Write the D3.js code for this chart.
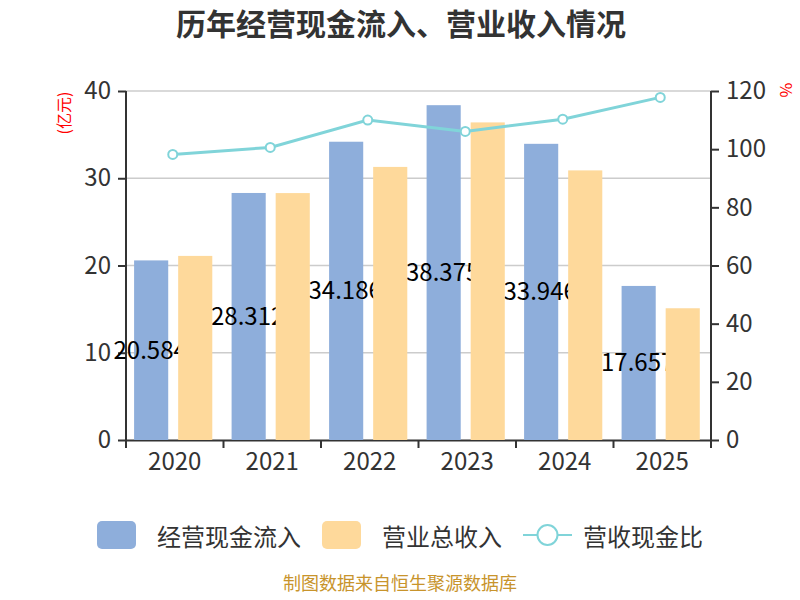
<!doctype html>
<html lang='zh'>
<head>
    <meta charset='UTF-8'>
    <title>历年经营现金流入、营业收入情况</title>
    <style>
        html, body {
            margin: 0;
            background: #fff;
        }
        svg text {
            font-family: "Noto Sans CJK SC", "Noto Sans", sans-serif;
        }
    </style>
</head>
<body>
    <script src='https://d3js.org/d3.v7.min.js'></script>
    <div class='chart'></div>
    <script>
        // data
        const years = ['2020', '2021', '2022', '2023', '2024', '2025'];
        const cashIn = [20.584, 28.312, 34.186, 38.375, 33.946, 17.657];
        const revenue = [21.1, 28.3, 31.3, 36.4, 30.9, 15.1];
        const ratio = [98.2, 100.6, 110.0, 106.1, 110.3, 117.8];
        const leftTicks = [0, 10, 20, 30, 40];
        const rightTicks = [0, 20, 40, 60, 80, 100, 120];

        const config = {
            width: 800,
            height: 600,
            left: 126,
            right: 711,
            top: 91,
            bottom: 440,
            blue: '#8eaedb',
            orange: '#fed99b',
            lineColor: '#80d4d9',
            axisColor: '#333',
            gridColor: '#ccc'
        };

        const svg = d3.select('.chart')
            .append('svg')
            .attr('width', config.width)
            .attr('height', config.height);

        const x = d3.scaleBand()
            .domain(years)
            .range([config.left, config.right]);

        const yLeft = d3.scaleLinear()
            .domain([0, 40])
            .range([config.bottom, config.top]);

        const yRight = d3.scaleLinear()
            .domain([0, 120])
            .range([config.bottom, config.top]);

        const barW = x.bandwidth() * 0.35;
        const blueOff = x.bandwidth() * 0.083;
        const orangeOff = x.bandwidth() * 0.535;

        // title
        svg.append('text')
            .attr('x', 401)
            .attr('y', 22)
            .attr('text-anchor', 'middle')
            .attr('dominant-baseline', 'central')
            .style('font-size', '30px')
            .style('font-weight', 'bold')
            .style('fill', '#333')
            .text('历年经营现金流入、营业收入情况');

        // grid
        svg.append('g')
            .selectAll('line')
            .data(leftTicks.filter((d) => d > 0))
            .join('line')
            .attr('x1', config.left)
            .attr('x2', config.right)
            .attr('y1', (d) => yLeft(d))
            .attr('y2', (d) => yLeft(d))
            .style('stroke', config.gridColor)
            .style('stroke-width', 1.5);

        // axes
        const leftAxis = svg.append('g')
            .attr('transform', 'translate(' + config.left + ',0)')
            .call(d3.axisLeft(yLeft).tickValues(leftTicks).tickSize(8).tickPadding(7));

        const rightAxis = svg.append('g')
            .attr('transform', 'translate(' + config.right + ',0)')
            .call(d3.axisRight(yRight).tickValues(rightTicks).tickSize(8).tickPadding(7));

        const bottomAxis = svg.append('g')
            .attr('transform', 'translate(0,' + config.bottom + ')')
            .call(d3.axisBottom(x).tickSize(0).tickPadding(13));

        // category boundary ticks
        const bounds = years.map((d) => x(d)).concat([config.right]);
        bottomAxis.selectAll('.bound')
            .data(bounds)
            .join('line')
            .classed('bound', true)
            .attr('x1', (d) => d)
            .attr('x2', (d) => d)
            .attr('y1', 0)
            .attr('y2', 8);

        [leftAxis, rightAxis, bottomAxis].forEach((g) => {
            g.select('.domain').style('stroke', config.axisColor).style('stroke-width', 2);
            g.selectAll('line').style('stroke', config.axisColor).style('stroke-width', 2);
            g.selectAll('text')
                .style('font-size', '24px')
                .style('fill', '#333');
        });
        leftAxis.select('.domain').attr('d', 'M0,' + config.top + 'V' + config.bottom);
        rightAxis.select('.domain').attr('d', 'M0,' + config.top + 'V' + config.bottom);

        // axis names
        svg.append('text')
            .attr('transform', 'translate(63,113) rotate(-90)')
            .attr('text-anchor', 'middle')
            .attr('dominant-baseline', 'central')
            .style('font-size', '16px')
            .style('fill', '#f00')
            .text('(亿元)');

        svg.append('text')
            .attr('transform', 'translate(787,90) rotate(90)')
            .attr('text-anchor', 'middle')
            .attr('dominant-baseline', 'central')
            .style('font-size', '16px')
            .style('fill', '#f00')
            .text('%');

        // blue bars
        svg.append('g')
            .selectAll('rect')
            .data(cashIn)
            .join('rect')
            .attr('x', (d, i) => x(years[i]) + blueOff)
            .attr('y', (d) => yLeft(d))
            .attr('width', barW)
            .attr('height', (d) => config.bottom - yLeft(d))
            .style('fill', config.blue);

        // value labels sit in the middle of the blue bars
        svg.append('g')
            .selectAll('text')
            .data(cashIn)
            .join('text')
            .attr('x', (d, i) => x(years[i]) + blueOff + barW / 2 - 1)
            .attr('y', (d) => (yLeft(d) + config.bottom) / 2 - 2)
            .attr('text-anchor', 'middle')
            .attr('dominant-baseline', 'central')
            .style('font-size', '24px')
            .style('fill', '#000')
            .text((d) => d.toFixed(3));

        // orange bars (drawn over the labels)
        svg.append('g')
            .selectAll('rect')
            .data(revenue)
            .join('rect')
            .attr('x', (d, i) => x(years[i]) + orangeOff)
            .attr('y', (d) => yLeft(d))
            .attr('width', barW)
            .attr('height', (d) => config.bottom - yLeft(d))
            .style('fill', config.orange);

        // ratio line
        const cx = (d, i) => x(years[i]) + x.bandwidth() / 2 - 2;
        const line = d3.line()
            .x(cx)
            .y((d) => yRight(d));

        svg.append('path')
            .datum(ratio)
            .attr('d', line)
            .style('fill', 'none')
            .style('stroke', config.lineColor)
            .style('stroke-width', 3);

        svg.append('g')
            .selectAll('circle')
            .data(ratio)
            .join('circle')
            .attr('cx', cx)
            .attr('cy', (d) => yRight(d))
            .attr('r', 4.5)
            .style('fill', '#fff')
            .style('stroke', config.lineColor)
            .style('stroke-width', 2);

        // legend
        const legend = svg.append('g').attr('transform', 'translate(0,535)');
        const legendItems = [
            {name: '经营现金流入', type: 'bar', color: config.blue, x: 97, tx: 157},
            {name: '营业总收入', type: 'bar', color: config.orange, x: 322, tx: 382},
            {name: '营收现金比', type: 'line', color: config.lineColor, x: 523, tx: 583}
        ];
        legendItems.forEach((item) => {
            if (item.type == 'bar') {
                legend.append('rect')
                    .attr('x', item.x)
                    .attr('y', -14)
                    .attr('width', 39)
                    .attr('height', 28)
                    .attr('rx', 5)
                    .style('fill', item.color);
            } else {
                legend.append('line')
                    .attr('x1', item.x)
                    .attr('x2', item.x + 49)
                    .style('stroke', item.color)
                    .style('stroke-width', 2);
                legend.append('circle')
                    .attr('cx', item.x + 24.5)
                    .attr('r', 10)
                    .style('fill', '#fff')
                    .style('stroke', item.color)
                    .style('stroke-width', 2);
            }
            legend.append('text')
                .attr('x', item.tx)
                .attr('dominant-baseline', 'central')
                .style('font-size', '24px')
                .style('fill', '#333')
                .text(item.name);
        });

        // source note
        svg.append('text')
            .attr('x', 400)
            .attr('y', 590)
            .attr('text-anchor', 'middle')
            .style('font-size', '18px')
            .style('fill', '#c8942c')
            .text('制图数据来自恒生聚源数据库');
    </script>
</body>
</html>
